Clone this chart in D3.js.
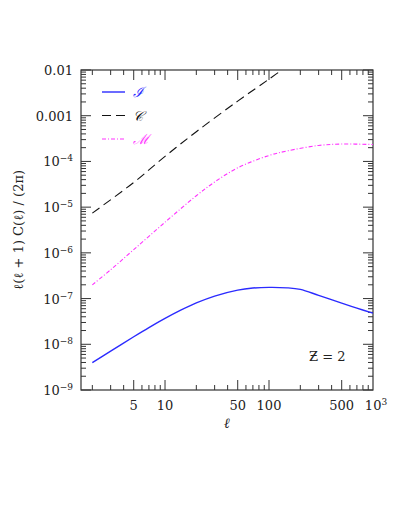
<!DOCTYPE html>
<html>
<head>
<meta charset="utf-8">
<script src="https://cdn.jsdelivr.net/npm/d3@7"></script>
<style>
  body { margin: 0; background: #fff; }
  text { font-family: "DejaVu Serif", "Liberation Serif", serif; fill: #222; }
</style>
</head>
<body>
<div id="vis"></div>
<script>
// multipoles and log10 of l(l+1)C(l)/2pi
const ellI = [2, 3, 5, 7, 10, 14, 20, 30, 50, 70, 100, 150, 200, 300, 500, 700, 1000];
const logI = [-8.40, -8.15, -7.835, -7.635, -7.435, -7.26, -7.095, -6.945, -6.815, -6.77, -6.755, -6.765, -6.80, -6.93, -7.10, -7.21, -7.32];

const ellC = [2, 5, 10, 20, 50, 100, 150];
const logC = [-5.13, -4.46, -3.89, -3.35, -2.68, -2.2, -1.91];

const ellM = [2, 3, 5, 10, 20, 30, 50, 100, 150, 300, 500, 1000];
const logM = [-6.70, -6.37, -5.93, -5.33, -4.75, -4.45, -4.14, -3.87, -3.77, -3.65, -3.62, -3.63];

const seriesNames = ["ℐ", "𝒞", "ℳ"];
const seriesColors = ["#2b2bff", "#111", "#ff33ff"];

const yTickValues = [1e-9, 1e-8, 1e-7, 1e-6, 1e-5, 1e-4, 1e-3, 1e-2];
const yTickLabels = [["10", "−9"], ["10", "−8"], ["10", "−7"], ["10", "−6"], ["10", "−5"], ["10", "−4"], ["0.001", ""], ["0.01", ""]];
const xTickValues = [5, 10, 50, 100, 500, 1000];
const xTickLabels = [["5", ""], ["10", ""], ["50", ""], ["100", ""], ["500", ""], ["10", "3"]];

const dimensions = {
    width: 407,
    height: 527,
    margin: {top: 70, right: 34, bottom: 137, left: 81}
};
dimensions.boundedWidth = dimensions.width - dimensions.margin.left - dimensions.margin.right;
dimensions.boundedHeight = dimensions.height - dimensions.margin.top - dimensions.margin.bottom;

const svg = d3.select("#vis")
    .append("svg")
    .attr("width", dimensions.width)
    .attr("height", dimensions.height);

const g = svg.append("g")
    .attr("transform", `translate(${dimensions.margin.left}, ${dimensions.margin.top})`);

const xScale = d3.scaleLog()
    .domain([1.556, 1000])
    .range([0, dimensions.boundedWidth]);

const yScale = d3.scaleLog()
    .domain([1e-9, 1e-2])
    .range([dimensions.boundedHeight, 0]);

g.append("clipPath").attr("id", "clip")
    .append("rect")
    .attr("width", dimensions.boundedWidth)
    .attr("height", dimensions.boundedHeight);

// minor ticks
const xMinor = [];
[1, 10, 100].forEach(d => { for (let k = 1; k <= 9; k++) { const v = d * k; if (v >= 2 && v <= 1000) xMinor.push(v); } });
const yMinor = [];
for (let e = -9; e < -2; e++) { for (let k = 2; k <= 9; k++) yMinor.push(k * Math.pow(10, e)); }

const W = dimensions.boundedWidth, H = dimensions.boundedHeight;
const axisColor = "#333";

function tickLen(v, majors) { return majors.some(m => Math.abs(m - v) / m < 1e-6) ? 10 : 5; }

const ticks = g.append("g").attr("stroke", axisColor).attr("stroke-width", 1);
xMinor.forEach(v => {
    const x = xScale(v), L = tickLen(v, xTickValues);
    ticks.append("line").attr("x1", x).attr("x2", x).attr("y1", H).attr("y2", H - L);
    ticks.append("line").attr("x1", x).attr("x2", x).attr("y1", 0).attr("y2", L);
});
yMinor.concat(yTickValues).forEach(v => {
    const y = yScale(v), L = tickLen(v, yTickValues);
    ticks.append("line").attr("x1", 0).attr("x2", L).attr("y1", y).attr("y2", y);
    ticks.append("line").attr("x1", W).attr("x2", W - L).attr("y1", y).attr("y2", y);
});

g.append("rect")
    .attr("width", W).attr("height", H)
    .attr("fill", "none").attr("stroke", axisColor).attr("stroke-width", 1.2);

// tick labels
const xl = g.append("g").attr("font-size", 13).attr("text-anchor", "middle");
xTickValues.forEach((v, i) => {
    const t = xl.append("text").attr("x", xScale(v) + (xTickLabels[i][1] ? 3 : 0)).attr("y", H + 20);
    t.append("tspan").text(xTickLabels[i][0]);
    if (xTickLabels[i][1]) t.append("tspan").attr("dy", -5).attr("font-size", 9).text(xTickLabels[i][1]);
});

const yl = g.append("g").attr("font-size", 13).attr("text-anchor", "end");
yTickValues.forEach((v, i) => {
    const t = yl.append("text").attr("x", -8).attr("y", yScale(v) + 5);
    t.append("tspan").text(yTickLabels[i][0]);
    if (yTickLabels[i][1]) t.append("tspan").attr("dy", -5).attr("font-size", 9).text(yTickLabels[i][1]);
});

// axis titles
g.append("text")
    .attr("x", xScale(100) - 42).attr("y", H + 38)
    .attr("text-anchor", "middle").attr("font-size", 14).attr("font-style", "italic")
    .text("ℓ");

g.append("text")
    .attr("transform", `translate(${-58}, ${H / 2}) rotate(-90)`)
    .attr("text-anchor", "middle").attr("font-size", 13)
    .text("ℓ(ℓ + 1) C(ℓ) / (2π)");

// curves
const line = d3.line()
    .x(d => xScale(d[0]))
    .y(d => yScale(Math.pow(10, d[1])))
    .curve(d3.curveCatmullRom);

const plot = g.append("g").attr("clip-path", "url(#clip)").attr("fill", "none");

plot.append("path")
    .datum(d3.zip(ellI, logI))
    .attr("d", line)
    .attr("stroke", seriesColors[0]).attr("stroke-width", 1.4);

plot.append("path")
    .datum(d3.zip(ellC, logC))
    .attr("d", line)
    .attr("stroke", seriesColors[1]).attr("stroke-width", 1.1)
    .attr("stroke-dasharray", "9,5");

plot.append("path")
    .datum(d3.zip(ellM, logM))
    .attr("d", line)
    .attr("stroke", seriesColors[2]).attr("stroke-width", 1.1)
    .attr("stroke-dasharray", "4,2,1,2");

// legend
const dashes = [null, "9,5", "4,2,1,2"];
const legend = g.append("g");
seriesNames.forEach((name, i) => {
    const y = 22 + i * 23.5;
    legend.append("line")
        .attr("x1", 21).attr("x2", 44).attr("y1", y).attr("y2", y)
        .attr("stroke", seriesColors[i]).attr("stroke-width", i === 0 ? 1.4 : 1.1)
        .attr("stroke-dasharray", dashes[i]);
    legend.append("text")
        .attr("x", 52).attr("y", y + 5)
        .attr("font-size", 14).attr("font-style", "italic")
        .style("fill", seriesColors[i])
        .text(name);
});

g.append("text")
    .attr("x", 228).attr("y", 291)
    .attr("font-size", 13)
    .text("Ƶ = 2");
</script>
</body>
</html>
